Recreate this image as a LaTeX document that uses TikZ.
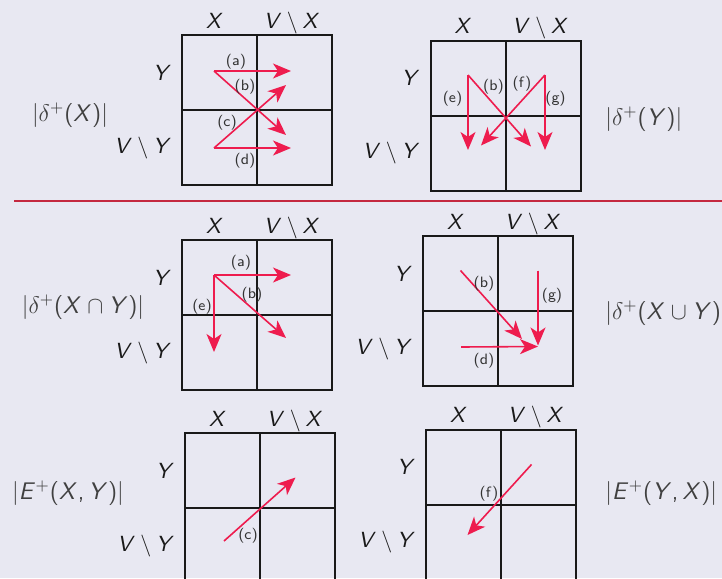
\documentclass[tikz,border=0pt]{standalone}
\usepackage{amsmath}
\usepackage{xcolor}
\usepackage{tikz}
\usetikzlibrary{arrows.meta}
% sans serif letters in the formulas, as on the slide
\DeclareSymbolFont{sfletters}{OT1}{cmss}{m}{sl}
\DeclareSymbolFont{sfupright}{OT1}{cmss}{m}{n}
\DeclareMathSymbol{X}{\mathalpha}{sfletters}{`X}
\DeclareMathSymbol{Y}{\mathalpha}{sfletters}{`Y}
\DeclareMathSymbol{V}{\mathalpha}{sfletters}{`V}
\DeclareMathSymbol{E}{\mathalpha}{sfletters}{`E}
\DeclareMathSymbol{(}{\mathopen}{sfupright}{`(}
\DeclareMathSymbol{)}{\mathclose}{sfupright}{`)}
\DeclareMathSymbol{+}{\mathbin}{sfupright}{`+}
\DeclareMathSymbol{,}{\mathpunct}{sfupright}{`,}
\definecolor{bgcol}{RGB}{232,232,242}
\definecolor{arrowred}{RGB}{238,28,78}
\definecolor{rulered}{RGB}{196,40,64}
\definecolor{sidegray}{RGB}{64,64,64}
\tikzstyle{cellgrid}=[draw=black!90,line width=1pt]
\tikzstyle{edgearr}=[-{Stealth[length=9pt,width=7.5pt,inset=2.5pt]},draw=arrowred,fill=arrowred,line width=0.8pt]
\tikzstyle{edgelab}=[font=\sffamily\fontsize{7.5}{9}\selectfont,text=black!80,inner sep=0pt]
\tikzstyle{setlab}=[font=\fontsize{11}{13}\selectfont,text=black!90,anchor=base,inner sep=0pt]
\tikzstyle{countlab}=[font=\fontsize{12}{14}\selectfont,text=sidegray,inner sep=0pt]

\begin{document}
\begin{tikzpicture}[x=0.5pt,y=-0.5pt]
\useasboundingbox (0,0) rectangle (722,578);
\fill[bgcol] (0,0) rectangle (722,578);
% upper left: delta^+(X)
\begin{scope}[shift={(182,35)}]
\draw[cellgrid] (0,0) rectangle (150,150) (75,0) -- (75,150) (0,75) -- (150,75);
\node[setlab] (g1x) at (33,-7) {$X$};
\node[setlab] (g1vx) at (110,-7) {$V\setminus X$};
\node[setlab,anchor=base east] (g1y) at (-10,45) {$Y$};
\node[setlab,anchor=base east] (g1vy) at (-10,118) {$V\setminus Y$};
\coordinate (g1s) at (32,36);
\coordinate (g1t) at (32,113);
\coordinate (g1ea) at (109,36);
\coordinate (g1eb) at (104,100);
\coordinate (g1ec) at (104,50);
\coordinate (g1ed) at (109,113);
\draw[edgearr] (g1s) -- (g1ea);
\draw[edgearr] (g1s) -- (g1eb);
\draw[edgearr] (g1t) -- (g1ec);
\draw[edgearr] (g1t) -- (g1ed);
\node[edgelab] (g1la) at (54,27) {(a)};
\node[edgelab] (g1lb) at (63,52) {(b)};
\node[edgelab] (g1lc) at (45,88) {(c)};
\node[edgelab] (g1ld) at (63,126) {(d)};
\end{scope}
\node[countlab] (nx) at (70,115) {$|\delta^+(X)|$};
% upper right: delta^+(Y)
\begin{scope}[shift={(430.5,40.5)}]
\draw[cellgrid] (0,0) rectangle (150,150) (75,0) -- (75,150) (0,75) -- (150,75);
\node[setlab] (g2x) at (33,-7) {$X$};
\node[setlab] (g2vx) at (110,-7) {$V\setminus X$};
\node[setlab,anchor=base east] (g2y) at (-10,45) {$Y$};
\node[setlab,anchor=base east] (g2vy) at (-10,118) {$V\setminus Y$};
\coordinate (g2s) at (37.5,34.5);
\coordinate (g2t) at (114.5,34.5);
\coordinate (g2ee) at (37.5,109.5);
\coordinate (g2eb) at (100.5,106);
\coordinate (g2ef) at (50.5,105);
\coordinate (g2eg) at (114.5,109.5);
\draw[edgearr] (g2s) -- (g2ee);
\draw[edgearr] (g2s) -- (g2eb);
\draw[edgearr] (g2t) -- (g2ef);
\draw[edgearr] (g2t) -- (g2eg);
\node[edgelab] (g2le) at (22,58) {(e)};
\node[edgelab] (g2lb) at (63,46) {(b)};
\node[edgelab] (g2lf) at (91.5,43) {(f)};
\node[edgelab] (g2lg) at (125,58) {(g)};
\end{scope}
\node[countlab,anchor=west] (ny) at (605,119) {$|\delta^+(Y)|$};
% separating rule
\draw[rulered,line width=1pt] (14,201) -- (722,201);
% middle left: delta^+(X cap Y)
\begin{scope}[shift={(182,240)}]
\draw[cellgrid] (0,0) rectangle (150,150) (75,0) -- (75,150) (0,75) -- (150,75);
\node[setlab] (g3x) at (33,-7) {$X$};
\node[setlab] (g3vx) at (110,-7) {$V\setminus X$};
\node[setlab,anchor=base east] (g3y) at (-10,45) {$Y$};
\node[setlab,anchor=base east] (g3vy) at (-10,118) {$V\setminus Y$};
\coordinate (g3s) at (32,35);
\coordinate (g3ea) at (109,35);
\coordinate (g3eb) at (104,98);
\coordinate (g3ee) at (32,112);
\draw[edgearr] (g3s) -- (g3ea);
\draw[edgearr] (g3s) -- (g3eb);
\draw[edgearr] (g3s) -- (g3ee);
\node[edgelab] (g3la) at (59,23) {(a)};
\node[edgelab] (g3lb) at (70,55) {(b)};
\node[edgelab] (g3le) at (20,67) {(e)};
\end{scope}
\node[countlab] (nxy) at (83,307) {$|\delta^+(X\cap Y)|$};
% middle right: delta^+(X cup Y)
\begin{scope}[shift={(423,236)}]
\draw[cellgrid] (0,0) rectangle (150,150) (75,0) -- (75,150) (0,75) -- (150,75);
\node[setlab] (g4x) at (33,-7) {$X$};
\node[setlab] (g4vx) at (110,-7) {$V\setminus X$};
\node[setlab,anchor=base east] (g4y) at (-10,45) {$Y$};
\node[setlab,anchor=base east] (g4vy) at (-10,118) {$V\setminus Y$};
\coordinate (g4sb) at (37.5,34.5);
\coordinate (g4sg) at (115,34.5);
\coordinate (g4sd) at (38,111);
\coordinate (g4eb) at (99,103);
\coordinate (g4eg) at (115,109.5);
\coordinate (g4ed) at (115,110.5);
\draw[edgearr] (g4sb) -- (g4eb);
\draw[edgearr] (g4sg) -- (g4eg);
\draw[edgearr] (g4sd) -- (g4ed);
\node[edgelab] (g4lb) at (61,48) {(b)};
\node[edgelab] (g4lg) at (129,60) {(g)};
\node[edgelab] (g4ld) at (61,125) {(d)};
\end{scope}
\node[countlab,anchor=west] (nxuy) at (605,313) {$|\delta^+(X\cup Y)|$};
% lower left: E^+(X,Y)
\begin{scope}[shift={(185,433)}]
\draw[cellgrid] (0,0) rectangle (150,150) (75,0) -- (75,150) (0,75) -- (150,75);
\node[setlab] (g5x) at (33,-7) {$X$};
\node[setlab] (g5vx) at (110,-7) {$V\setminus X$};
\node[setlab,anchor=base east] (g5y) at (-10,45) {$Y$};
\node[setlab,anchor=base east] (g5vy) at (-10,118) {$V\setminus Y$};
\coordinate (g5s) at (39,108);
\coordinate (g5e) at (110.5,44.5);
\draw[edgearr] (g5s) -- (g5e);
\node[edgelab] (g5lc) at (63,103) {(c)};
\end{scope}
\node[countlab] (exy) at (68,493) {$|E^+(X,Y)|$};
% lower right: E^+(Y,X)
\begin{scope}[shift={(426,429.5)}]
\draw[cellgrid] (0,0) rectangle (150,150) (75,0) -- (75,150) (0,75) -- (150,75);
\node[setlab] (g6x) at (33,-7) {$X$};
\node[setlab] (g6vx) at (110,-7) {$V\setminus X$};
\node[setlab,anchor=base east] (g6y) at (-10,45) {$Y$};
\node[setlab,anchor=base east] (g6vy) at (-10,118) {$V\setminus Y$};
\coordinate (g6s) at (105.5,35);
\coordinate (g6e) at (41.5,105.5);
\draw[edgearr] (g6s) -- (g6e);
\node[edgelab] (g6lf) at (63,64) {(f)};
\end{scope}
\node[countlab,anchor=west] (eyx) at (605,493) {$|E^+(Y,X)|$};
\end{tikzpicture}
\end{document}
